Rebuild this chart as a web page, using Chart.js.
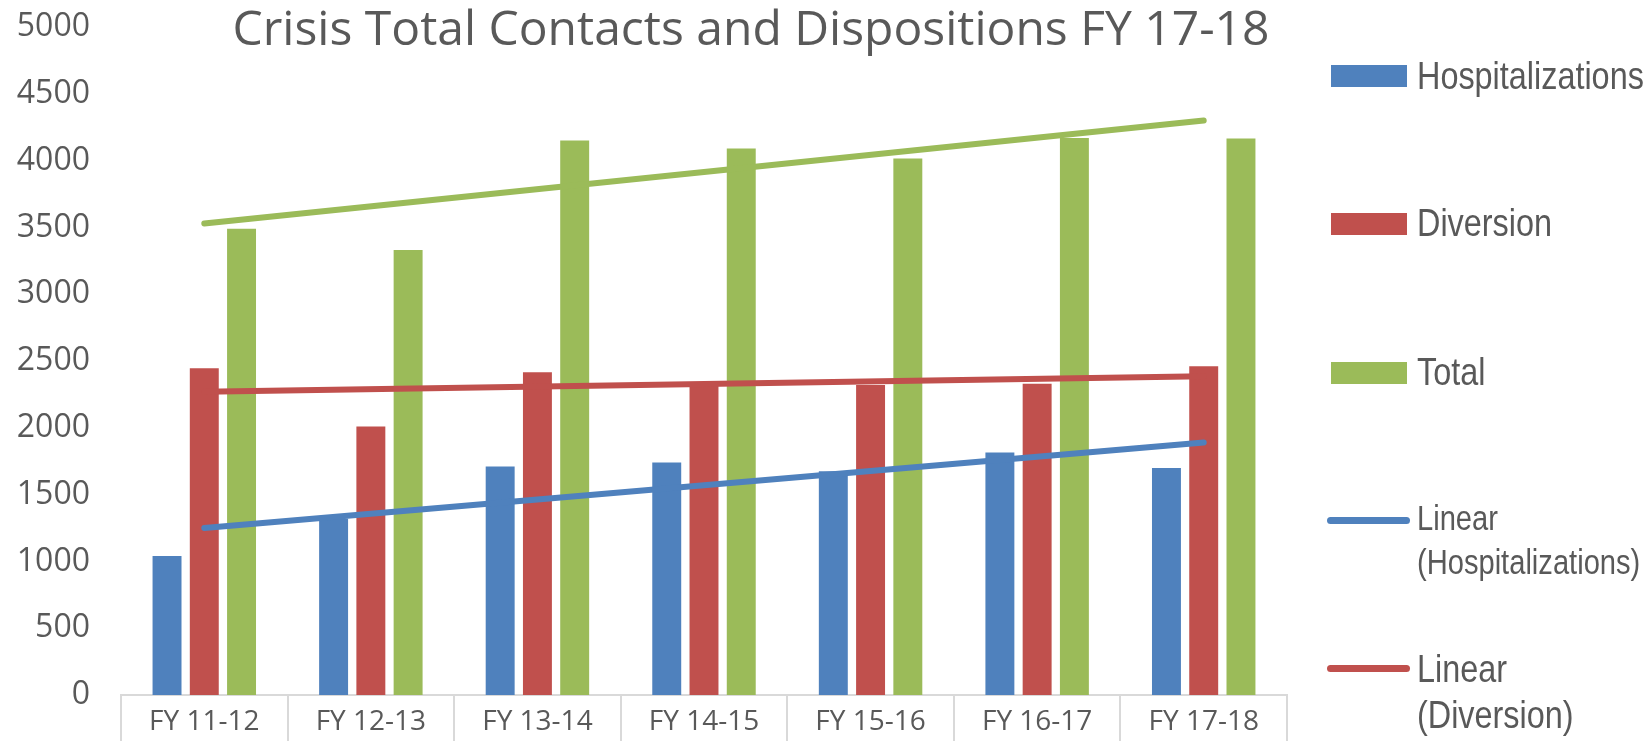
<!DOCTYPE html>
<html>
<head>
<meta charset="utf-8">
<title>Crisis Total Contacts and Dispositions FY 17-18</title>
<script src="https://cdn.jsdelivr.net/npm/chart.js@4.4.1/dist/chart.umd.min.js"></script>
<style>
    html, body { margin: 0; padding: 0; background: #ffffff; }
    #wrap { position: relative; width: 1649px; height: 741px; overflow: hidden; }
    #chart { position: absolute; left: 0; top: 0; }
    .title {
        position: absolute; left: 151px; width: 1200px; top: -1px;
        text-align: center; white-space: nowrap;
        font-family: 'Open Sans', sans-serif; font-size: 48px; line-height: 56px;
        color: #595959;
    }
    .swatch { position: absolute; }
    .legend-text {
        position: absolute; left: 1417px; white-space: nowrap;
        font-family: 'Liberation Sans', Arial, sans-serif;
        color: #595959;
        transform: scaleX(0.82);
        transform-origin: 0 0;
    }
</style>
</head>
<body>
<div id="wrap">
    <canvas id="chart" width="1649" height="741"></canvas>
    <div class="title" id="title"></div>
    <div id="legend"></div>
</div>
<script>
// Data
const categories = ['FY 11-12', 'FY 12-13', 'FY 13-14', 'FY 14-15', 'FY 15-16', 'FY 16-17', 'FY 17-18'];
const hospitalizations = [1040, 1320, 1710, 1740, 1675, 1815, 1700];
const diversion = [2445, 2010, 2415, 2330, 2320, 2330, 2460];
const total = [3490, 3330, 4150, 4090, 4015, 4170, 4165];

// Trend lines: start and end values as drawn (first and last category)
const trendHospitalizations = [1250, null, null, null, null, null, 1890];
const trendDiversion = [2270, null, null, null, null, null, 2385];
const trendTotal = [3530, null, null, null, null, null, 4300];

const yTicks = [0, 500, 1000, 1500, 2000, 2500, 3000, 3500, 4000, 4500, 5000];

const chartTitle = 'Crisis Total Contacts and Dispositions FY 17-18';

const colors = {
    blue: '#4f81bd',
    red: '#c0504d',
    green: '#9bbb59',
    text: '#595959',
    axis: '#d9d9d9'
};

Chart.defaults.font.family = "'Open Sans', sans-serif";
Chart.defaults.color = colors.text;

function trendDataset(label, data, color) {
    return {
        type: 'line',
        label: label,
        data: data,
        borderColor: color,
        backgroundColor: color,
        borderWidth: 6,
        borderCapStyle: 'round',
        pointRadius: 0,
        spanGaps: true,
        fill: false,
        tension: 0,
        order: 0
    };
}

function barDataset(label, data, color) {
    return {
        type: 'bar',
        label: label,
        data: data,
        backgroundColor: color,
        borderWidth: 0,
        order: 1
    };
}

const chart = new Chart(document.getElementById('chart'), {
    data: {
        labels: categories,
        datasets: [
            barDataset('Hospitalizations', hospitalizations, colors.blue),
            barDataset('Diversion', diversion, colors.red),
            barDataset('Total', total, colors.green),
            trendDataset('Linear (Hospitalizations)', trendHospitalizations, colors.blue),
            trendDataset('Linear (Diversion)', trendDiversion, colors.red),
            trendDataset('Linear (Total)', trendTotal, colors.green)
        ]
    },
    options: {
        responsive: false,
        animation: false,
        datasets: {
            bar: {
                categoryPercentage: 0.671,
                barPercentage: 0.777
            }
        },
        layout: {
            padding: { top: 27, right: 362, bottom: 0, left: 0 }
        },
        plugins: {
            legend: { display: false },
            title: { display: false },
            tooltip: { enabled: false }
        },
        scales: {
            x: {
                offset: true,
                grid: {
                    offset: true,
                    drawOnChartArea: false,
                    drawTicks: true,
                    tickLength: 46,
                    color: colors.axis,
                    lineWidth: 2
                },
                border: { display: true, color: colors.axis, width: 2 },
                ticks: {
                    padding: -36,
                    color: colors.text,
                    font: { size: 28 },
                    maxRotation: 0,
                    autoSkip: false
                },
                afterFit: function (scale) {
                    scale.height = 46;
                }
            },
            y: {
                min: 0,
                max: 5000,
                grid: { display: false, drawTicks: false },
                border: { display: false },
                afterBuildTicks: function (scale) {
                    scale.ticks = yTicks.map(v => ({ value: v }));
                },
                ticks: {
                    padding: 31,
                    color: colors.text,
                    font: { size: 32 },
                    callback: value => String(value)
                },
                afterFit: function (scale) {
                    scale.width = 121;
                    // tick padding should not push the plot area down
                    scale.paddingTop = 0;
                    scale.paddingBottom = 0;
                }
            }
        }
    }
});

// Title
document.getElementById('title').textContent = chartTitle;

// Legend (right side, Excel style)
const legendItems = [
    { label: ['Hospitalizations'], color: colors.blue, kind: 'box', center: 76, size: 39.5, lh: 46, top: 52 },
    { label: ['Diversion'], color: colors.red, kind: 'box', center: 223.5, size: 39.5, lh: 46, top: 199 },
    { label: ['Total'], color: colors.green, kind: 'box', center: 372.5, size: 39.5, lh: 46, top: 348 },
    { label: ['Linear', '(Hospitalizations)'], color: colors.blue, kind: 'line', center: 520, size: 35.5, lh: 44, top: 496 },
    { label: ['Linear', '(Diversion)'], color: colors.red, kind: 'line', center: 668, size: 39.5, lh: 46, top: 645 }
];

const legend = document.getElementById('legend');
legendItems.forEach(item => {
    const sw = document.createElement('div');
    sw.className = 'swatch';
    sw.style.background = item.color;
    if (item.kind === 'box') {
        sw.style.left = '1331px';
        sw.style.width = '76px';
        sw.style.height = '22px';
        sw.style.top = (item.center - 11) + 'px';
    } else {
        sw.style.left = '1327px';
        sw.style.width = '83px';
        sw.style.height = '7px';
        sw.style.borderRadius = '4px';
        sw.style.top = (item.center - 3.5) + 'px';
    }
    legend.appendChild(sw);

    const tx = document.createElement('div');
    tx.className = 'legend-text';
    tx.style.top = item.top + 'px';
    tx.style.fontSize = item.size + 'px';
    tx.style.lineHeight = item.lh + 'px';
    tx.innerHTML = item.label.join('<br>');
    legend.appendChild(tx);
});
</script>
</body>
</html>
